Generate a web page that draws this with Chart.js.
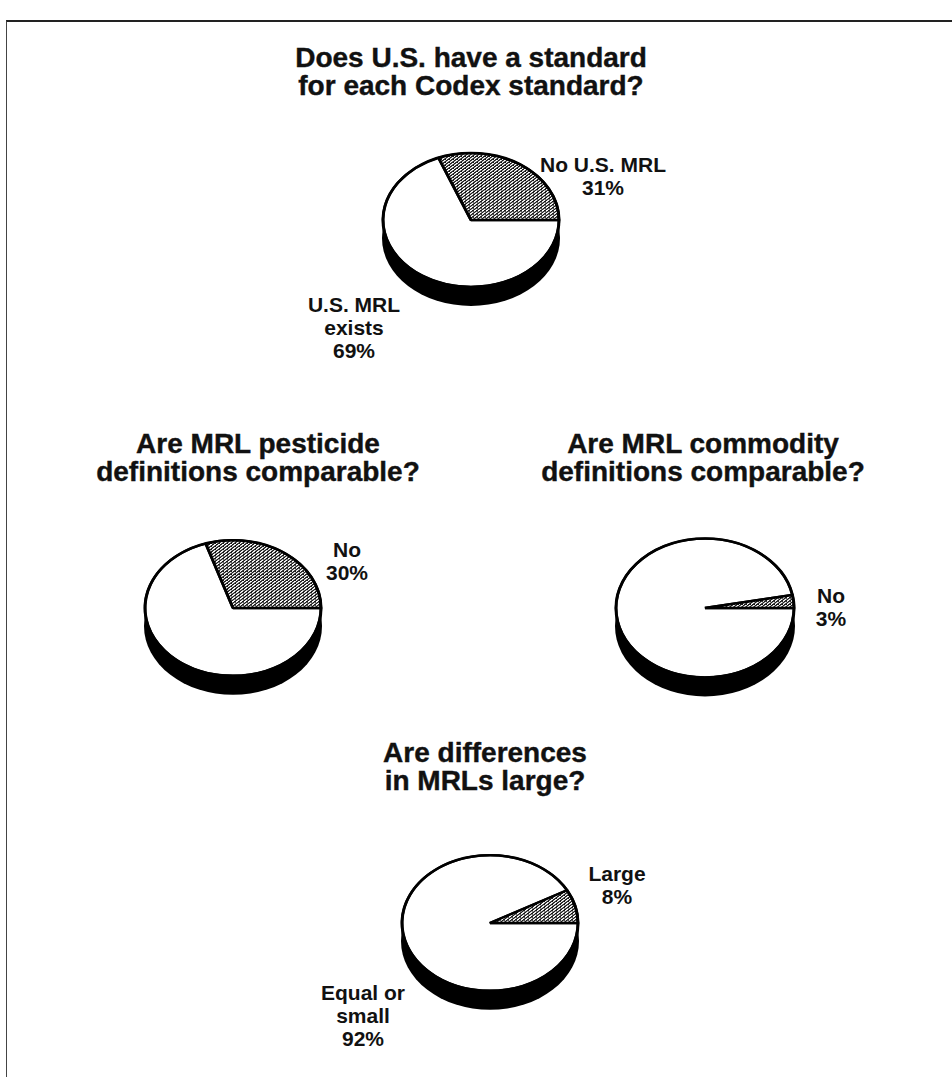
<!DOCTYPE html>
<html>
<head>
<meta charset="utf-8">
<script src="https://cdn.jsdelivr.net/npm/chart.js@4.4.1/dist/chart.umd.min.js"></script>
<style>
  html, body { margin: 0; padding: 0; background: #fff; }
  body { width: 952px; height: 1077px; position: relative; overflow: hidden; }
  .frame { position: absolute; left: 6px; top: 20px; right: -2px; bottom: -2px;
           border-top: 2px solid #222; border-left: 1.5px solid #444; }
  .txt { position: absolute; transform: translateX(-50%); text-align: center;
         white-space: nowrap; color: #111; font-family: "Liberation Sans", Arial, sans-serif;
         font-weight: bold; overflow: visible; }
  .ttl { -webkit-text-stroke: 0.4px #111; }
  canvas { position: absolute; }
</style>
</head>
<body>
<div class="frame"></div>
<script>
// Four survey questions, each answered by a two-slice pie
const titles = [
  ['Does U.S. have a standard', 'for each Codex standard?'],
  ['Are MRL pesticide', 'definitions comparable?'],
  ['Are MRL commodity', 'definitions comparable?'],
  ['Are differences', 'in MRLs large?']
];
const categories = [
  ['U.S. MRL exists', 'No U.S. MRL'],
  ['Yes', 'No'],
  ['Yes', 'No'],
  ['Equal or small', 'Large']
];
const shares = [
  [69, 31],
  [70, 30],
  [97, 3],
  [92, 8]
];
// printed slice labels (line breaks), null = slice not labelled
const labelLines = [
  [['U.S. MRL', 'exists'], ['No U.S. MRL']],
  [null, ['No']],
  [null, ['No']],
  [['Equal or', 'small'], ['Large']]
];

// page placement of each pie and its texts
const layout = [
  { cx: 471, cy: 220, r: 88, squash: 0.76, title: [471, 68], labels: [[354, 312], [603, 172]] },
  { cx: 233, cy: 608, r: 88, squash: 0.77, title: [258, 454], labels: [null, [347, 557]] },
  { cx: 705, cy: 608, r: 89, squash: 0.78, title: [703, 454], labels: [null, [831, 603]] },
  { cx: 490, cy: 923, r: 88, squash: 0.77, title: [485, 763], labels: [[363, 1000], [617, 881]] }
];
const DEPTH = 18;

// one div per line so each line box is exactly lh tall
function placeText(lines, x, baseline, size, lh, cls) {
  const off = (lh - 1.117 * size) / 2 + 0.905 * size;
  lines.forEach((t, n) => {
    const d = document.createElement('div');
    d.className = 'txt ' + (cls || '');
    d.style.fontSize = size + 'px';
    d.style.lineHeight = lh + 'px';
    d.style.height = lh + 'px';
    d.style.left = x + 'px';
    d.style.top = (baseline + n * lh - off) + 'px';
    d.textContent = t;
    document.body.appendChild(d);
  });
}

// dotted hatch used for the minority slice
function hatch() {
  const c = document.createElement('canvas');
  c.width = 4; c.height = 4;
  const g = c.getContext('2d');
  g.fillStyle = '#fff';
  g.fillRect(0, 0, 4, 4);
  g.fillStyle = '#1a1a1a';
  for (let x = 0; x < 4; x++) {
    for (let y = 0; y < 4; y++) {
      if ((x + y) % 4 < 2 || (x === 2 && y === 0)) g.fillRect(x, y, 1, 1);
    }
  }
  return g.createPattern(c, 'repeat');
}

// squash the pie into a tilted disc and give it a black side
const tilt = {
  id: 'tilt',
  beforeDatasetsDraw(chart, args, opts) {
    const arc = chart.getDatasetMeta(0).data[0];
    const x = arc.x, y = arc.y, r = arc.outerRadius, k = opts.squash;
    const ctx = chart.ctx;
    ctx.save();
    ctx.fillStyle = '#000';
    ctx.beginPath();
    ctx.ellipse(x, y + opts.depth, r + 1, r * k + 1, 0, 0, Math.PI * 2);
    ctx.fill();
    ctx.translate(x, y);
    ctx.scale(1, k);
    ctx.translate(-x, -y);
  },
  afterDatasetsDraw(chart, args, opts) {
    const ctx = chart.ctx;
    ctx.restore();
    const arc = chart.getDatasetMeta(0).data[0];
    ctx.save();
    ctx.strokeStyle = '#000';
    ctx.lineWidth = 2.5;
    ctx.beginPath();
    ctx.ellipse(arc.x, arc.y, arc.outerRadius, arc.outerRadius * opts.squash, 0, 0, Math.PI * 2);
    ctx.stroke();
    ctx.restore();
  }
};

const pattern = hatch();

layout.forEach((p, i) => {
  placeText(titles[i], p.title[0], p.title[1], 28, 28, 'ttl');

  labelLines[i].forEach((lines, j) => {
    if (!lines) return;
    const pos = p.labels[j];
    placeText(lines.concat([shares[i][j] + '%']), pos[0], pos[1], 21, 23);
  });

  const size = 2 * p.r + 24;
  const cv = document.createElement('canvas');
  cv.width = size; cv.height = size;
  cv.style.left = (p.cx - size / 2) + 'px';
  cv.style.top = (p.cy - size / 2) + 'px';
  document.body.appendChild(cv);

  new Chart(cv.getContext('2d'), {
    type: 'pie',
    data: {
      labels: categories[i],
      datasets: [{
        data: shares[i],
        backgroundColor: ['#ffffff', pattern],
        borderColor: '#000',
        borderWidth: 3,
        hoverOffset: 0,
        clip: false
      }]
    },
    options: {
      responsive: false,
      animation: false,
      events: [],
      radius: p.r,
      rotation: 90,
      layout: { padding: 0 },
      plugins: {
        legend: { display: false },
        tooltip: { enabled: false },
        tilt: { squash: p.squash, depth: DEPTH }
      }
    },
    plugins: [tilt]
  });
});
</script>
</body>
</html>
